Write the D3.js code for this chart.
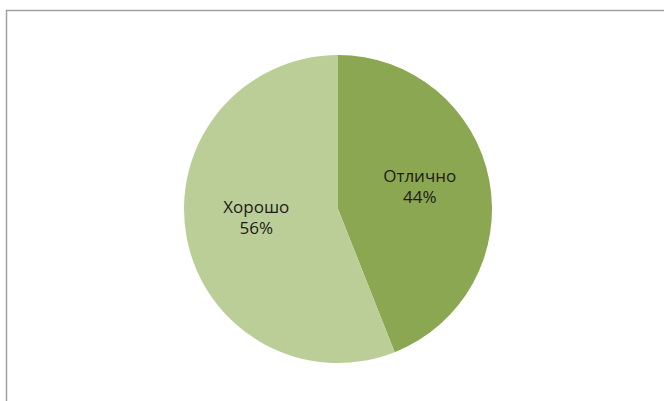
<!DOCTYPE html>
<html>
<head>
<meta charset="utf-8">
<script src="https://cdn.jsdelivr.net/npm/d3@7"></script>
<style>
  html, body { margin: 0; padding: 0; background: #fff; }
  svg { display: block; }
</style>
</head>
<body>
<svg id="chart"></svg>
<script>
const categories = ["Отлично", "Хорошо"];
const values = [44, 56];
const colors = ["#8ca752", "#bbce98"];

const width = 664;
const height = 401;
const cx = 338, cy = 209;
const radius = 154;

const svg = d3.select("#chart")
    .attr("width", width)
    .attr("height", height)
    .style("font-family", "'Open Sans', 'Liberation Sans', sans-serif");

// chart frame, runs off the right and bottom edges
svg.append("rect")
    .attr("x", 6.5)
    .attr("y", 10.5)
    .attr("width", width + 10)
    .attr("height", height + 10)
    .attr("fill", "#fff")
    .attr("stroke", "#a0a0a0")
    .attr("stroke-width", 1.5);

const pie = d3.pie().sort(null).value(d => d.value);
const data = pie(categories.map((c, i) => ({ name: c, value: values[i], color: colors[i] })));

const arc = d3.arc().innerRadius(0).outerRadius(radius);
const labelArc = d3.arc().innerRadius(0).outerRadius(radius * 1.08);

const g = svg.append("g").attr("transform", `translate(${cx},${cy})`);

g.selectAll("path")
    .data(data)
    .join("path")
    .attr("d", arc)
    .attr("fill", d => d.data.color);

const total = d3.sum(values);

const label = g.selectAll("text")
    .data(data)
    .join("text")
    .attr("transform", d => {
        const [x, y] = labelArc.centroid(d);
        return `translate(${x},${y - 8})`;
    })
    .attr("text-anchor", "middle")
    .attr("font-size", 17)
    .attr("fill", "#1c1c1c");

label.append("tspan")
    .attr("x", 0)
    .attr("dy", "-0.2em")
    .text(d => d.data.name);

label.append("tspan")
    .attr("x", 0)
    .attr("dy", "1.25em")
    .text(d => Math.round(d.data.value / total * 100) + "%");
</script>
</body>
</html>
